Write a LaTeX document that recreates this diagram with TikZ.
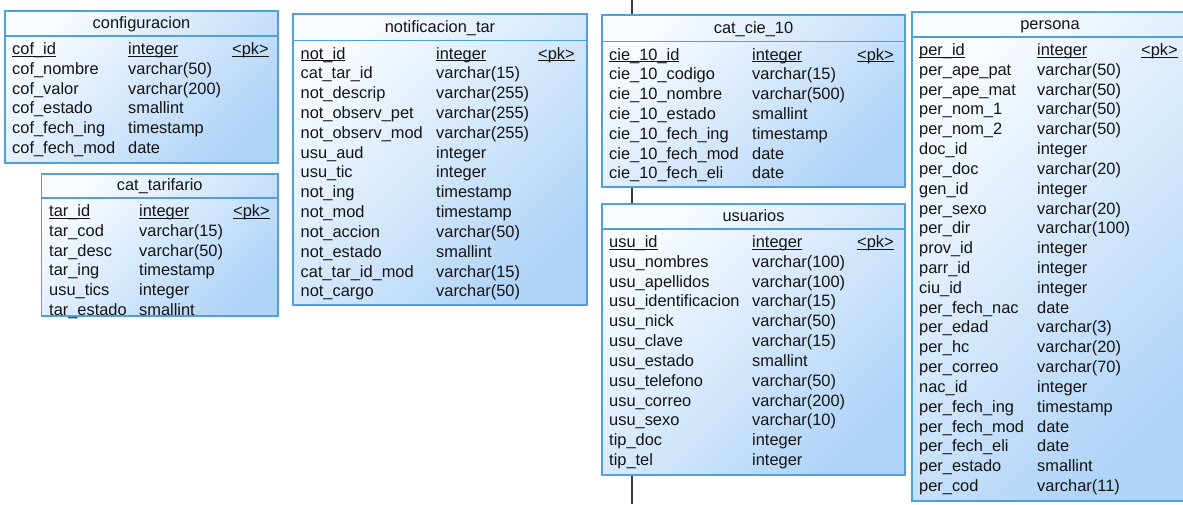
\documentclass[tikz,border=0pt]{standalone}
\usepackage{fontspec}
\setmainfont{Liberation Sans}
\definecolor{tblborder}{RGB}{79,160,220}
\definecolor{tbllight}{RGB}{248,251,255}
\definecolor{tbldark}{RGB}{176,212,248}
\definecolor{linkgray}{RGB}{60,60,60}
\definecolor{txt}{RGB}{20,20,20}
\newcommand\ulx[1]{\setbox0\hbox{#1}\rlap{\rule[-2pt]{\wd0}{0.9pt}}\box0}
\tikzset{
  tablebox/.style={draw=tblborder, line width=1.3pt, top color=tbllight, bottom color=tbldark, shading angle=45, inner sep=0pt, outer sep=0pt},
  headline/.style={draw=tblborder, line width=1.3pt},
  cell/.style={anchor=base west, inner sep=0pt, text=txt, font=\fontsize{16.4}{18}\selectfont},
  tabletitle/.style={anchor=base, inner sep=0pt, text=txt, font=\fontsize{16.4}{18}\selectfont},
  link/.style={draw=linkgray, line width=1.4pt}
}
% #1 name, #2 left, #3 top, #4 right, #5 header line y, #6 bottom, #7 title
\newcommand\erdbox[7]{%
  \pgfmathsetmacro\bw{#4-#2}\pgfmathsetmacro\bh{#6-#3}%
  \node[tablebox, anchor=north west, minimum width=\bw pt, minimum height=\bh pt] (#1) at (#2,#3) {};
  \draw[headline] (#1.west |- 0,#5) -- (#1.east |- 0,#5);
  \node[tabletitle] (#1-title) at ({(#2+#4)/2},{#5-7.7}) {#7};
}
% #1 name, #2 x1, #3 x2, #4 xpk, #5 header line y, #6 pk name, #7 other rows name/type
\newcommand\erdrows[7]{%
  \node[cell] (#1-n0) at (#2,{#5+18.5}) {\ulx{#6}};
  \node[cell] (#1-t0) at (#3,{#5+18.5}) {\ulx{integer}};
  \node[cell] (#1-pk) at (#4,{#5+18.5}) {\ulx{<pk>}};
  \foreach \a/\b [count=\i from 1] in {#7} {
    \node[cell] (#1-n\i) at (#2,{#5+18.5+\i*19.82}) {\a};
    \node[cell] (#1-t\i) at (#3,{#5+18.5+\i*19.82}) {\b};
  }
}
\begin{document}
\begin{tikzpicture}[x=1pt,y=-1pt]
\useasboundingbox (0,0) rectangle (1183,504);
\clip (0,0) rectangle (1183,504);
\fill[white] (0,0) rectangle (1183,504);
% connector passing behind the tables
\coordinate (linktop) at (632,0);
\coordinate (linkbot) at (632,504);
\draw[link] (linktop) -- (linkbot);

\erdbox{conf}{5}{11}{278}{36}{163}{configuracion}
\erdrows{conf}{12}{128}{232}{36}{cof\_id}{cof\_nombre/varchar(50), cof\_valor/varchar(200), cof\_estado/smallint, cof\_fech\_ing/timestamp, cof\_fech\_mod/date}

\erdbox{tar}{41.5}{174}{278}{198}{316}{cat\_tarifario}
\erdrows{tar}{49}{139}{233}{198}{tar\_id}{tar\_cod/varchar(15), tar\_desc/varchar(50), tar\_ing/timestamp, usu\_tics/integer, tar\_estado/smallint}

\erdbox{notif}{293}{14}{587}{40.5}{305}{notificacion\_tar}
\erdrows{notif}{300.5}{436}{538}{40.5}{not\_id}{cat\_tar\_id/varchar(15), not\_descrip/varchar(255), not\_observ\_pet/varchar(255), not\_observ\_mod/varchar(255), usu\_aud/integer, usu\_tic/integer, not\_ing/timestamp, not\_mod/timestamp, not\_accion/varchar(50), not\_estado/smallint, cat\_tar\_id\_mod/varchar(15), not\_cargo/varchar(50)}

\erdbox{cie}{602}{15}{905}{41.5}{187}{cat\_cie\_10}
\erdrows{cie}{609}{752}{857}{41.5}{cie\_10\_id}{cie\_10\_codigo/varchar(15), cie\_10\_nombre/varchar(500), cie\_10\_estado/smallint, cie\_10\_fech\_ing/timestamp, cie\_10\_fech\_mod/date, cie\_10\_fech\_eli/date}

\erdbox{usu}{602}{204}{905}{229}{475}{usuarios}
\erdrows{usu}{609}{752}{857}{229}{usu\_id}{usu\_nombres/varchar(100), usu\_apellidos/varchar(100), usu\_identificacion/varchar(15), usu\_nick/varchar(50), usu\_clave/varchar(15), usu\_estado/smallint, usu\_telefono/varchar(50), usu\_correo/varchar(200), usu\_sexo/varchar(10), tip\_doc/integer, tip\_tel/integer}

\erdbox{per}{912}{12}{1188}{37}{501}{persona}
\erdrows{per}{919}{1037}{1141}{37}{per\_id}{per\_ape\_pat/varchar(50), per\_ape\_mat/varchar(50), per\_nom\_1/varchar(50), per\_nom\_2/varchar(50), doc\_id/integer, per\_doc/varchar(20), gen\_id/integer, per\_sexo/varchar(20), per\_dir/varchar(100), prov\_id/integer, parr\_id/integer, ciu\_id/integer, per\_fech\_nac/date, per\_edad/varchar(3), per\_hc/varchar(20), per\_correo/varchar(70), nac\_id/integer, per\_fech\_ing/timestamp, per\_fech\_mod/date, per\_fech\_eli/date, per\_estado/smallint, per\_cod/varchar(11)}
\end{tikzpicture}
\end{document}
